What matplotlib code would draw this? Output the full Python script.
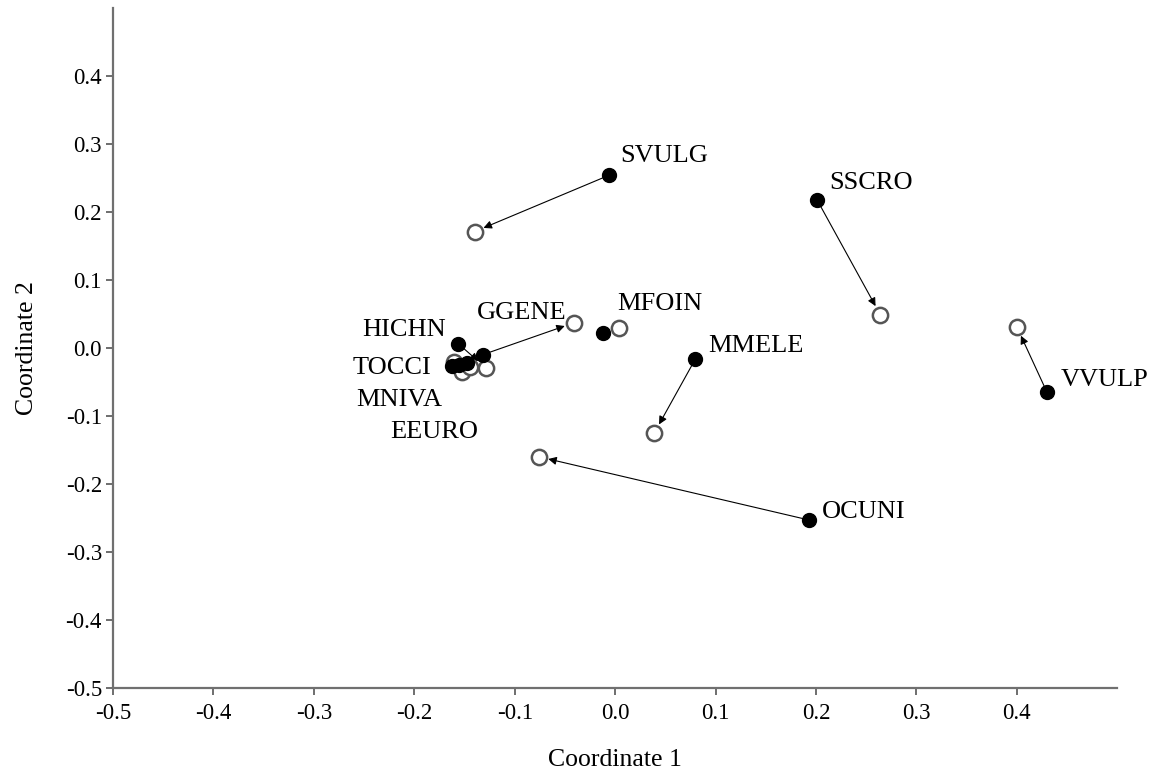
import numpy as np
import matplotlib.pyplot as plt

plt.rcParams["font.family"] = ["Liberation Serif", "DejaVu Serif"]

species = ["SVULG", "SSCRO", "GGENE", "MFOIN", "HICHN", "MMELE",
           "TOCCI", "VVULP", "MNIVA", "EEURO", "OCUNI"]

# first configuration (filled) and second configuration (open)
x_start = [-0.006, 0.201, -0.132, -0.012, -0.156, 0.080, -0.162, 0.430, -0.155, -0.147, 0.193]
y_start = [0.254, 0.218, -0.010, 0.022, 0.006, -0.016, -0.027, -0.065, -0.025, -0.022, -0.253]
x_end = [-0.140, 0.264, -0.041, 0.004, -0.129, 0.039, -0.160, 0.400, -0.152, -0.145, -0.076]
y_end = [0.171, 0.049, 0.037, 0.029, -0.029, -0.125, -0.021, 0.031, -0.035, -0.028, -0.160]

# label offsets in points from the filled marker
label_offsets = {
    "SVULG": (8, 14), "SSCRO": (9, 12), "GGENE": (-4, 30), "MFOIN": (10, 21),
    "HICHN": (-69, 10), "MMELE": (9, 9), "TOCCI": (-72, -1), "VVULP": (10, 9),
    "MNIVA": (-74, -25), "EEURO": (-56, -50), "OCUNI": (9, 6),
}

fig = plt.figure(figsize=(11.53, 7.71), dpi=100)
ax = fig.add_axes([0.098, 0.1077, 0.871, 0.882])

for xs, ys, xe, ye in zip(x_start, y_start, x_end, y_end):
    d = np.hypot(xe - xs, ye - ys)
    if d < 0.02:
        continue
    ax.annotate("", xy=(xe, ye), xytext=(xs, ys),
                arrowprops=dict(arrowstyle="-|>", color="black", lw=0.8,
                                mutation_scale=12, shrinkA=0, shrinkB=7),
                zorder=1)

ax.plot(x_end, y_end, "o", ms=11, mfc="white", mec="#555555", mew=1.8,
        ls="none", zorder=2)
ax.plot(x_start, y_start, "o", ms=10, mfc="black", mec="black",
        ls="none", zorder=3)

for name, xs, ys in zip(species, x_start, y_start):
    ax.annotate(name, xy=(xs, ys), xytext=label_offsets[name],
                textcoords="offset points", ha="left", va="center",
                fontsize=19, zorder=4)

ax.set_xlim(-0.5, 0.5)
ax.set_ylim(-0.5, 0.5)
ax.set_xticks(np.arange(-0.5, 0.41, 0.1))
ax.set_yticks(np.arange(-0.5, 0.41, 0.1))
ax.xaxis.set_major_formatter(plt.FuncFormatter(lambda v, p: f"{v:.1f}".replace("-0.0", "0.0")))
ax.yaxis.set_major_formatter(plt.FuncFormatter(lambda v, p: f"{v:.1f}".replace("-0.0", "0.0")))

for side in ["top", "right"]:
    ax.spines[side].set_visible(False)
for side in ["left", "bottom"]:
    ax.spines[side].set_color("#707070")
    ax.spines[side].set_linewidth(1.6)
ax.tick_params(direction="out", length=5, width=1.2, color="#555555",
               labelsize=16.5)
ax.tick_params(axis="x", pad=6)
ax.tick_params(axis="y", pad=3)

ax.set_xlabel("Coordinate 1", fontsize=18.5, labelpad=18)
ax.set_ylabel("Coordinate 2", fontsize=18.5, labelpad=20)

fig.savefig("out.png", dpi=100)
